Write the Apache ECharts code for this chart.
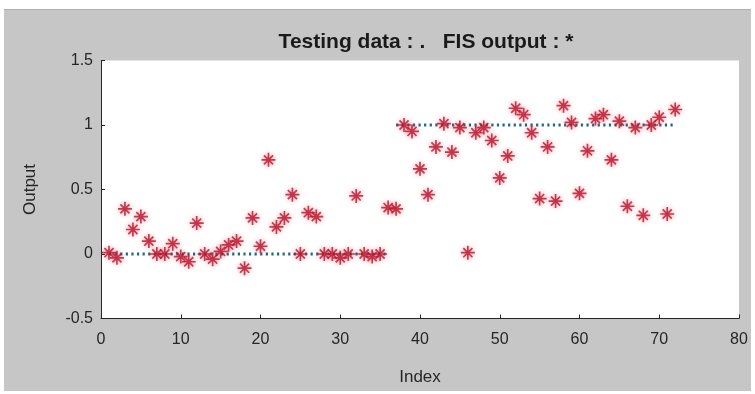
<!DOCTYPE html>
<html>
<head>
<meta charset="utf-8">
<script src="https://cdn.jsdelivr.net/npm/echarts@6/dist/echarts.min.js"></script>
<style>
html,body{margin:0;padding:0;background:#ffffff;}
#bg{position:absolute;left:4px;top:9px;width:747px;height:381px;background:#c6c6c6;border-top:1px solid #b0b0b0;}
#chart{position:absolute;left:0;top:0;width:755px;height:394px;}
</style>
</head>
<body>
<div id="bg"></div>
<div id="chart"></div>
<script>
// Testing data (target) by index 1..72
const testingData = [0,0,0,0,0,0,0,0,0,0,0,0,0,0,0,0,0,0,0,0,0,0,0,0,0,0,0,0,0,0,0,0,0,0,0,0,
                     1,1,1,1,1,1,1,1,1,1,1,1,1,1,1,1,1,1,1,1,1,1,1,1,1,1,1,1,1,1,1,1,1,1,1,1];
// FIS output by index 1..72
const fisOutput = [0.01,-0.03,0.35,0.19,0.29,0.10,0,0,0.08,-0.02,-0.06,0.24,0,-0.04,0.02,0.07,0.10,-0.11,
                   0.28,0.06,0.73,0.21,0.28,0.46,0,0.32,0.29,0,0,-0.03,0,0.45,0,-0.02,0,0.36,
                   0.35,1.0,0.95,0.66,0.46,0.83,1.01,0.79,0.98,0.01,0.94,0.98,0.88,0.59,0.76,1.13,
                   1.08,0.94,0.43,0.83,0.41,1.15,1.02,0.47,0.80,1.05,1.08,0.73,1.03,0.37,0.98,0.30,
                   1.0,1.06,0.31,1.12];
const xTicks = [0,10,20,30,40,50,60,70,80];
const yTicks = [-0.5,0,0.5,1,1.5];
const titleText = 'Testing data : .   FIS output : *';

// split target data into constant runs so runs are not joined
const runs = [];
let cur = null;
testingData.forEach((v, i) => {
  if (!cur || cur.v !== v) { cur = {v: v, pts: []}; runs.push(cur); }
  cur.pts.push([i + 1, v]);
});

const star = 'path://M0,-10L0,10M-10,0L10,0M-6.5,-6.5L6.5,6.5M-6.5,6.5L6.5,-6.5';
const txt = '#262626';
const font = '"Liberation Sans", Arial, sans-serif';

const series = runs.map(r => ({
  type: 'line', data: r.pts, symbol: 'none', silent: true,
  lineStyle: {color: '#1f6a84', width: 2.8, type: [2.2, 3.4]}, z: 2
}));
series.push({
  type: 'scatter',
  data: fisOutput.map((v, i) => [i + 1, v]),
  symbol: star, symbolSize: 14,
  itemStyle: {color: 'none', borderColor: '#b8132a', borderWidth: 1.7,
              shadowBlur: 5, shadowColor: 'rgba(235,40,60,0.6)'},
  z: 3
});

const chart = echarts.init(document.getElementById('chart'), null, {renderer: 'canvas'});
chart.setOption({
  animation: false,
  title: {text: titleText, left: 421, top: 27, textAlign: 'center',
          textStyle: {fontFamily: font, fontWeight: 'bold', fontSize: 21, color: '#1a1a1a'}},
  grid: {left: 101, right: 16, top: 60.5, bottom: 75.5, show: true, backgroundColor: '#ffffff', borderWidth: 0},
  xAxis: {
    type: 'value', min: xTicks[0], max: xTicks[xTicks.length - 1], interval: 10,
    name: 'Index', nameLocation: 'middle', nameGap: 50,
    nameTextStyle: {fontFamily: font, fontSize: 17, color: txt},
    axisLine: {show: true, onZero: false, lineStyle: {color: txt, width: 1}},
    axisTick: {show: true, inside: true, length: 4, lineStyle: {color: txt}},
    axisLabel: {fontFamily: font, fontSize: 16, color: txt, margin: 13},
    splitLine: {show: false}
  },
  yAxis: {
    type: 'value', min: yTicks[0], max: yTicks[yTicks.length - 1], interval: 0.5,
    name: 'Output', nameLocation: 'middle', nameGap: 62, nameRotate: 90,
    nameTextStyle: {fontFamily: font, fontSize: 17, color: txt},
    axisLine: {show: true, onZero: false, lineStyle: {color: txt, width: 1}},
    axisTick: {show: true, inside: true, length: 4, lineStyle: {color: txt}},
    axisLabel: {fontFamily: font, fontSize: 16, color: txt, margin: 8},
    splitLine: {show: false}
  },
  series: series
});
</script>
</body>
</html>
